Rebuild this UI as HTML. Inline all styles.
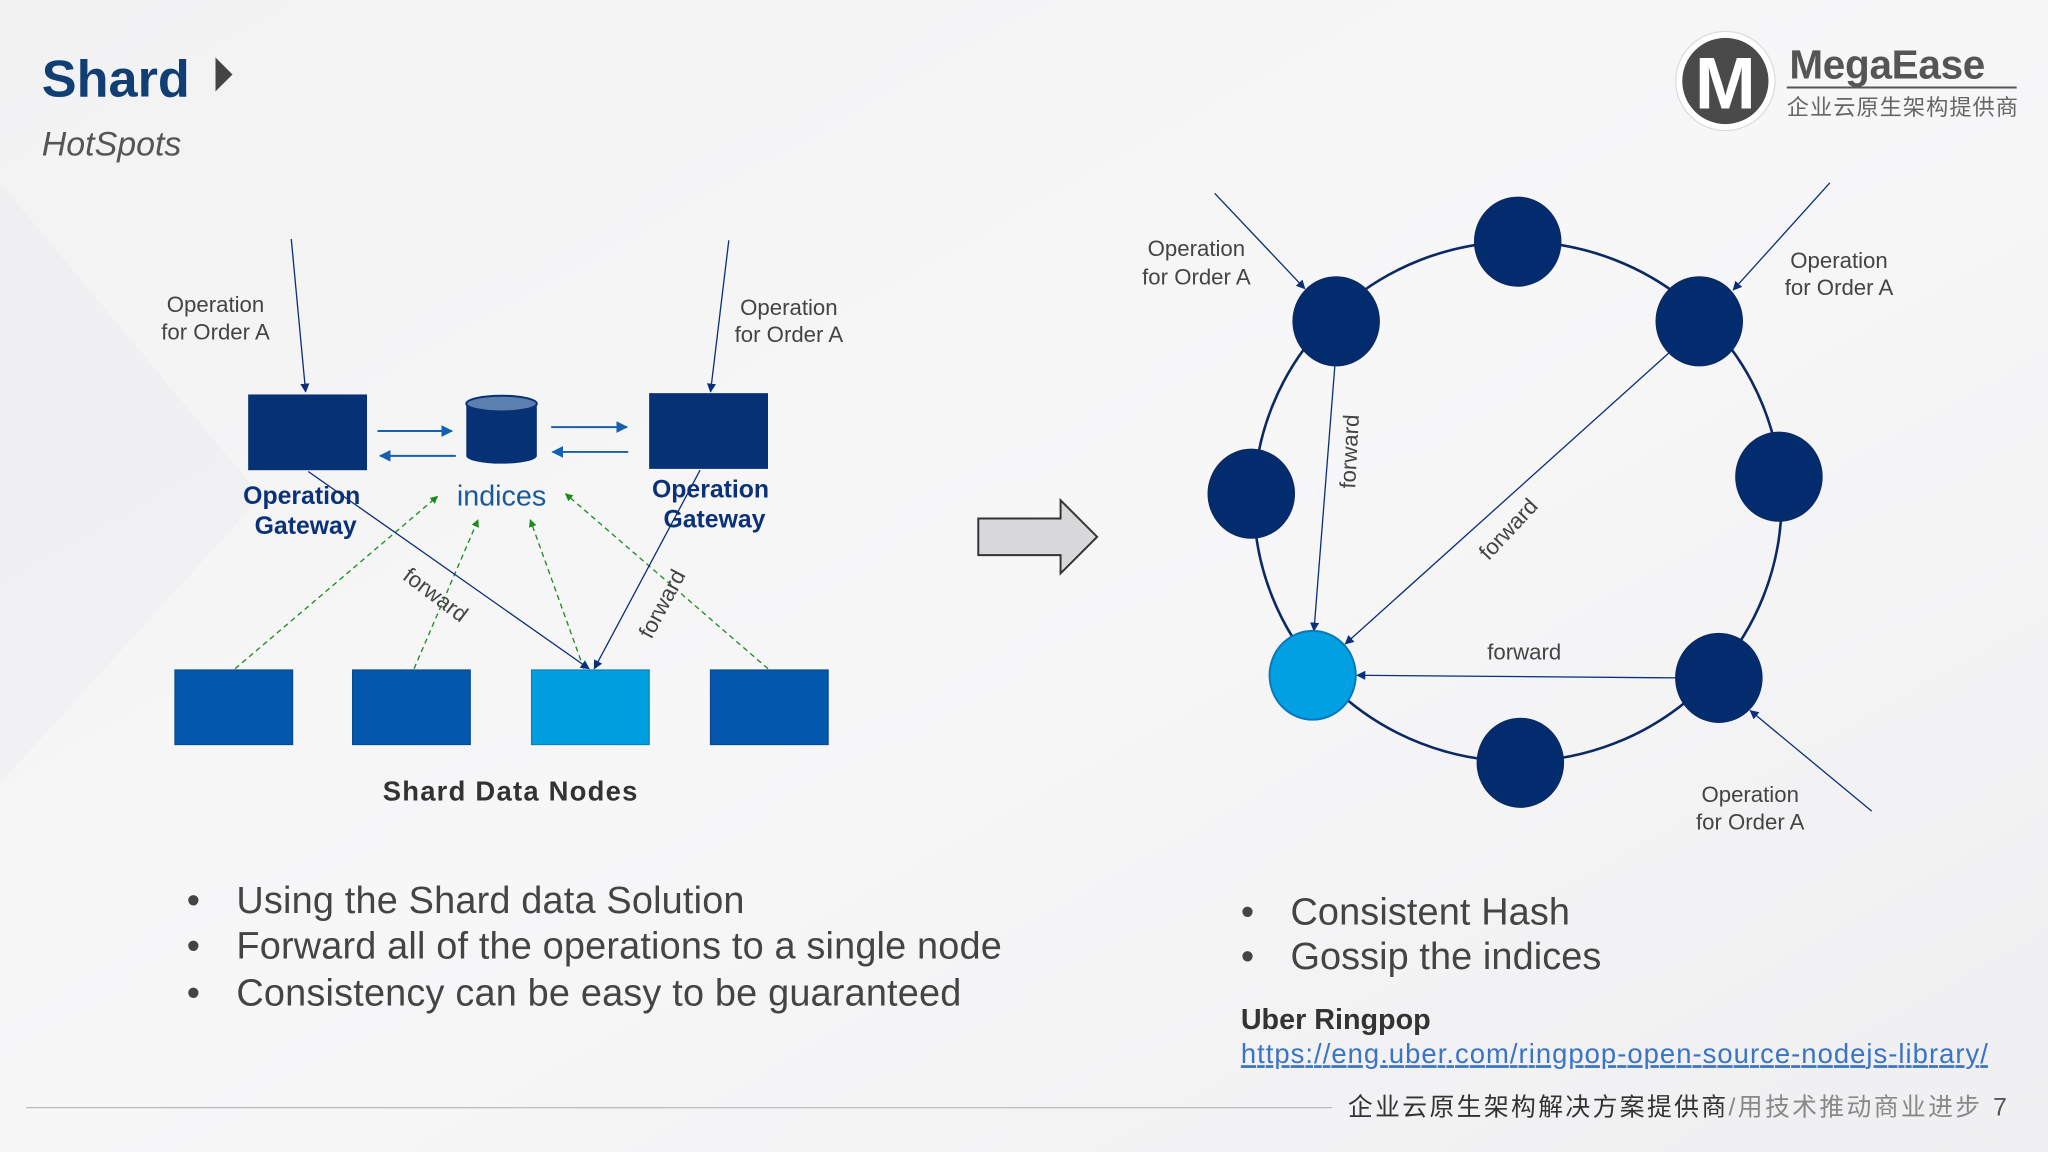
<!DOCTYPE html>
<html><head><meta charset="utf-8"><style>
html,body{margin:0;padding:0;width:2048px;height:1152px;overflow:hidden;background:#f4f4f5;}
svg{display:block}
text{font-family:"Liberation Sans",sans-serif;}
.cjk{font-family:"Liberation Sans","Noto Sans CJK SC",sans-serif;}
</style></head><body>
<svg width="2048" height="1152" viewBox="0 0 1568 882" xmlns="http://www.w3.org/2000/svg">
<defs>
<linearGradient id="bg" x1="0" y1="0" x2="1" y2="1">
<stop offset="0" stop-color="#f2f2f3"/><stop offset="0.5" stop-color="#f7f7f8"/><stop offset="1" stop-color="#efeff1"/>
</linearGradient>
<marker id="ab" viewBox="0 0 10 10" refX="9" refY="5" markerWidth="7" markerHeight="7" orient="auto-start-reverse"><path d="M0,0 L10,5 L0,10 z" fill="#0b2f78"/></marker>
<marker id="ab2" viewBox="0 0 10 10" refX="9" refY="5" markerWidth="6" markerHeight="6" orient="auto"><path d="M0,0 L10,5 L0,10 z" fill="#1560b0"/></marker>
<marker id="ag" viewBox="0 0 10 10" refX="9" refY="5" markerWidth="6" markerHeight="6" orient="auto"><path d="M0,0 L10,5 L0,10 z" fill="#1a8a1a"/></marker>
</defs>
<rect width="1568" height="882" fill="url(#bg)"/>
<polygon points="0,140 200,380 0,600" fill="#e9e9eb" opacity="0.3"/>
<!-- title -->
<text x="32" y="74" font-size="40" font-weight="bold" fill="#123f73">Shard</text>
<polygon points="165,44 178,57 165,70" fill="#444"/>
<text x="32" y="119" font-size="26" font-style="italic" fill="#555">HotSpots</text>
<!-- logo -->
<circle cx="1321" cy="62" r="38" fill="#fff" stroke="#ddd"/>
<circle cx="1321" cy="62" r="33" fill="#4a4a4a"/>
<text x="1321" y="83" font-size="56" font-weight="bold" fill="#fff" text-anchor="middle">M</text>
<text x="1370" y="60" font-size="31" font-weight="bold" fill="#555" textLength="150">MegaEase</text>
<line x1="1368" y1="67" x2="1544" y2="67" stroke="#555" stroke-width="1.5"/>
<text x="1368" y="88" font-size="17" fill="#666" class="cjk" textLength="177">企业云原生架构提供商</text>

<!-- LEFT DIAGRAM -->
<line x1="223" y1="183" x2="234" y2="300" stroke="#0b2f78" stroke-width="1" marker-end="url(#ab)"/>
<line x1="558" y1="184" x2="544" y2="300" stroke="#0b2f78" stroke-width="1" marker-end="url(#ab)"/>
<text x="165" y="239" font-size="17" fill="#444" text-anchor="middle">Operation</text>
<text x="165" y="260" font-size="17" fill="#444" text-anchor="middle">for Order A</text>
<text x="604" y="241" font-size="17" fill="#444" text-anchor="middle">Operation</text>
<text x="604" y="262" font-size="17" fill="#444" text-anchor="middle">for Order A</text>
<rect x="190" y="302" width="91" height="58" fill="#063174"/>
<rect x="497" y="301" width="91" height="58" fill="#063174"/>
<path d="M357,309 L357,349 A27,6 0 0 0 411,349 L411,309 Z" fill="#063174"/>
<ellipse cx="384" cy="309" rx="27" ry="6" fill="#5c7fb0" stroke="#063174" stroke-width="1.5"/>
<line x1="289" y1="330" x2="346" y2="330" stroke="#1560b0" stroke-width="1.5" marker-end="url(#ab2)"/>
<line x1="349" y1="349" x2="291" y2="349" stroke="#1560b0" stroke-width="1.5" marker-end="url(#ab2)"/>
<line x1="422" y1="327" x2="480" y2="327" stroke="#1560b0" stroke-width="1.5" marker-end="url(#ab2)"/>
<line x1="481" y1="346" x2="423" y2="346" stroke="#1560b0" stroke-width="1.5" marker-end="url(#ab2)"/>
<text x="231" y="386" font-size="19" font-weight="bold" fill="#0b3278" text-anchor="middle">Operation</text>
<text x="234" y="409" font-size="19" font-weight="bold" fill="#0b3278" text-anchor="middle">Gateway</text>
<text x="544" y="381" font-size="19" font-weight="bold" fill="#0b3278" text-anchor="middle">Operation</text>
<text x="547" y="404" font-size="19" font-weight="bold" fill="#0b3278" text-anchor="middle">Gateway</text>
<text x="384" y="387" font-size="22" fill="#1a5a9a" text-anchor="middle">indices</text>
<g stroke="#1a8a1a" stroke-width="1" stroke-dasharray="4,3" fill="none">
<line x1="180" y1="512" x2="335" y2="380" marker-end="url(#ag)"/>
<line x1="317" y1="512" x2="366" y2="398" marker-end="url(#ag)"/>
<line x1="447" y1="512" x2="406" y2="398" marker-end="url(#ag)"/>
<line x1="588" y1="512" x2="433" y2="378" marker-end="url(#ag)"/>
</g>
<line x1="236" y1="361" x2="451" y2="512" stroke="#0b2f78" stroke-width="1" marker-end="url(#ab)"/>
<line x1="536" y1="360" x2="455" y2="512" stroke="#0b2f78" stroke-width="1" marker-end="url(#ab)"/>
<text x="330" y="460" font-size="17" fill="#444" text-anchor="middle" transform="rotate(37 330 460)">forward</text>
<text x="512" y="465" font-size="17" fill="#444" text-anchor="middle" transform="rotate(-62 512 465)">forward</text>
<rect x="134" y="513" width="90" height="57" fill="#0358ad" stroke="#0a4a90"/>
<rect x="270" y="513" width="90" height="57" fill="#0358ad" stroke="#0a4a90"/>
<rect x="407" y="513" width="90" height="57" fill="#00a0e0" stroke="#0a80c0"/>
<rect x="544" y="513" width="90" height="57" fill="#0358ad" stroke="#0a4a90"/>
<text x="293" y="613" font-size="21" font-weight="bold" fill="#333" textLength="195">Shard Data Nodes</text>

<polygon points="749,397 812,397 812,383 840,411 812,439 812,425 749,425" fill="#d8d8da" stroke="#333" stroke-width="1.5"/>

<!-- RING -->
<ellipse cx="1162" cy="384" rx="202" ry="199" fill="none" stroke="#0b2a62" stroke-width="2"/>
<line x1="930" y1="148" x2="999" y2="221" stroke="#0b2f78" stroke-width="1" marker-end="url(#ab)"/>
<line x1="1401" y1="140" x2="1327" y2="222" stroke="#0b2f78" stroke-width="1" marker-end="url(#ab)"/>
<line x1="1433" y1="621" x2="1340" y2="544" stroke="#0b2f78" stroke-width="1" marker-end="url(#ab)"/>
<line x1="1022" y1="280" x2="1006" y2="483" stroke="#0b2f78" stroke-width="1" marker-end="url(#ab)"/>
<line x1="1278" y1="270" x2="1030" y2="493" stroke="#0b2f78" stroke-width="1" marker-end="url(#ab)"/>
<line x1="1283" y1="519" x2="1039" y2="517" stroke="#0b2f78" stroke-width="1" marker-end="url(#ab)"/>
<g fill="#032c6e" stroke="#0b2a62">
<ellipse cx="1162" cy="185" rx="33" ry="34"/>
<ellipse cx="1023" cy="246" rx="33" ry="34"/>
<ellipse cx="1301" cy="246" rx="33" ry="34"/>
<ellipse cx="958" cy="378" rx="33" ry="34"/>
<ellipse cx="1362" cy="365" rx="33" ry="34"/>
<ellipse cx="1316" cy="519" rx="33" ry="34"/>
<ellipse cx="1164" cy="584" rx="33" ry="34"/>
</g>
<ellipse cx="1005" cy="517" rx="33" ry="34" fill="#00a0e3" stroke="#0a78b8" stroke-width="1.5"/>
<text x="916" y="196" font-size="17" fill="#444" text-anchor="middle">Operation</text>
<text x="916" y="218" font-size="17" fill="#444" text-anchor="middle">for Order A</text>
<text x="1408" y="205" font-size="17" fill="#444" text-anchor="middle">Operation</text>
<text x="1408" y="226" font-size="17" fill="#444" text-anchor="middle">for Order A</text>
<text x="1340" y="614" font-size="17" fill="#444" text-anchor="middle">Operation</text>
<text x="1340" y="635" font-size="17" fill="#444" text-anchor="middle">for Order A</text>
<text x="1039" y="346" font-size="17" fill="#444" text-anchor="middle" transform="rotate(-87 1039 346)">forward</text>
<text x="1159" y="409" font-size="17" fill="#444" text-anchor="middle" transform="rotate(-47 1159 409)">forward</text>
<text x="1167" y="505" font-size="17" fill="#444" text-anchor="middle">forward</text>

<g font-size="29" fill="#444">
<text x="143" y="699">•</text><text x="181" y="699" textLength="389">Using the Shard data Solution</text>
<text x="143" y="734">•</text><text x="181" y="734" textLength="586">Forward all of the operations to a single node</text>
<text x="143" y="770">•</text><text x="181" y="770" textLength="555">Consistency can be easy to be guaranteed</text>
<text x="950" y="708">•</text><text x="988" y="708" textLength="214">Consistent Hash</text>
<text x="950" y="742">•</text><text x="988" y="742" textLength="238">Gossip the indices</text>
</g>
<text x="950" y="788" font-size="22" font-weight="bold" fill="#333">Uber Ringpop</text>
<text x="950" y="814" font-size="21" fill="#3a74c4" text-decoration="underline" textLength="572">https://eng.uber.com/ringpop-open-source-nodejs-library/</text>
<line x1="20" y1="848" x2="1020" y2="848" stroke="#bbb" stroke-width="1"/>
<text x="1032" y="854" font-size="19" fill="#333" class="cjk" textLength="484">企业云原生架构解决方案提供商<tspan fill="#888">/用技术推动商业进步</tspan></text>
<text x="1526" y="854" font-size="19" fill="#555">7</text>
</svg>
</body></html>
